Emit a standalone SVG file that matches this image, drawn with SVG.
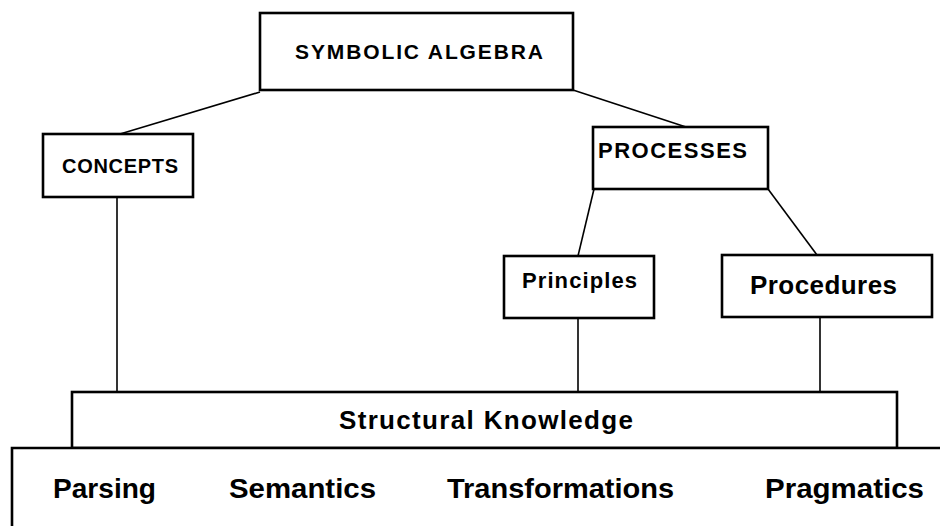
<svg xmlns="http://www.w3.org/2000/svg" width="940" height="526" viewBox="0 0 940 526">
<style>
.box{fill:#fff;stroke:#000;stroke-width:2.6}
.ln{stroke:#000;stroke-width:1.6;fill:none}
.t{font-family:"Liberation Sans",Arial,sans-serif;font-weight:bold;fill:#000;text-anchor:start}
</style>
<rect width="940" height="526" fill="#fff"/>
<g id="connectors">
<line class="ln" x1="260" y1="92" x2="120" y2="134"/>
<line class="ln" x1="573" y1="90" x2="686" y2="127"/>
<line class="ln" x1="117" y1="197" x2="117" y2="392"/>
<line class="ln" x1="594" y1="189" x2="578" y2="256"/>
<line class="ln" x1="768" y1="189" x2="817" y2="255"/>
<line class="ln" x1="578" y1="318" x2="578" y2="392"/>
<line class="ln" x1="820" y1="317" x2="820" y2="392"/>
</g>
<g id="symbolic-algebra">
<rect class="box" x="260" y="13" width="313" height="77"/>
<text class="t" x="295" y="59" font-size="21" textLength="248" lengthAdjust="spacing">SYMBOLIC  ALGEBRA</text>
</g>
<g id="concepts">
<rect class="box" x="43" y="134" width="150" height="63"/>
<text class="t" x="62" y="173" font-size="20" textLength="116" lengthAdjust="spacing">CONCEPTS</text>
</g>
<g id="processes">
<rect class="box" x="593" y="127" width="175" height="62"/>
<text class="t" x="598" y="158" font-size="22" textLength="149" lengthAdjust="spacing">PROCESSES</text>
</g>
<g id="principles">
<rect class="box" x="504" y="256" width="150" height="62"/>
<text class="t" x="522" y="288" font-size="22" textLength="115" lengthAdjust="spacing">Principles</text>
</g>
<g id="procedures">
<rect class="box" x="722" y="255" width="210" height="62"/>
<text class="t" x="750" y="294" font-size="26" textLength="147" lengthAdjust="spacing">Procedures</text>
</g>
<g id="structural-knowledge">
<rect class="box" x="72" y="392" width="825" height="56"/>
<text class="t" x="339" y="429" font-size="26" textLength="294" lengthAdjust="spacing">Structural  Knowledge</text>
</g>
<g id="base">
<path class="box" d="M12 526 V448 H940" fill="none"/>
<text class="t" x="53" y="498" font-size="28" textLength="103" lengthAdjust="spacingAndGlyphs">Parsing</text>
<text class="t" x="229" y="498" font-size="28" textLength="147" lengthAdjust="spacingAndGlyphs">Semantics</text>
<text class="t" x="447" y="498" font-size="28" textLength="227" lengthAdjust="spacingAndGlyphs">Transformations</text>
<text class="t" x="765" y="498" font-size="28" textLength="159" lengthAdjust="spacingAndGlyphs">Pragmatics</text>
</g>
</svg>
